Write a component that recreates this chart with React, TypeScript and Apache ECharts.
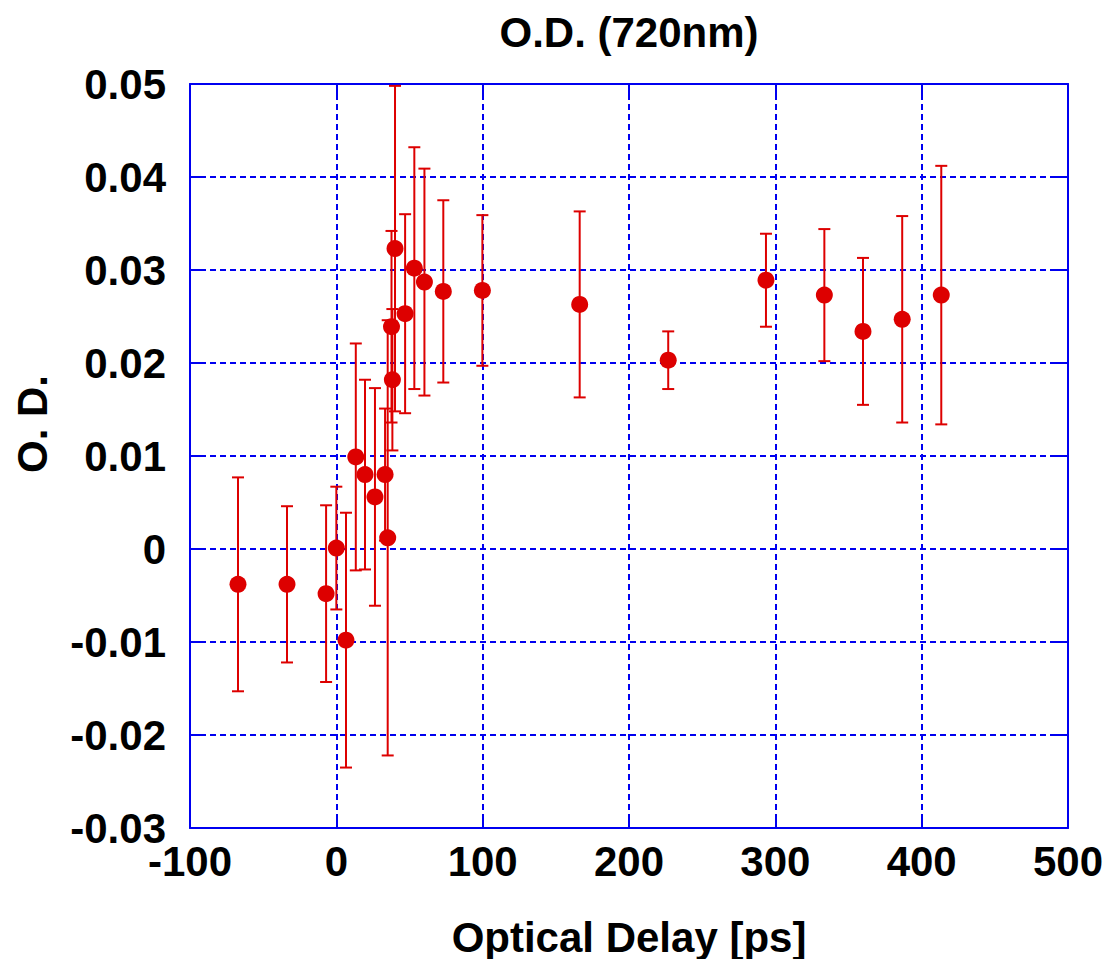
import React, { useEffect, useRef } from "react";
import * as echarts from "echarts";

const delays = [-67.2, -33.7, -7.0, 0.0, 6.6, 13.3, 19.6, 26.4, 33.3, 35.1, 37.7, 38.3, 40.1, 47.0, 53.3, 60.2, 73.1, 99.8, 166.3, 226.8, 293.6, 333.5, 359.9, 386.7, 413.4];
const od = [-0.0038, -0.0038, -0.0048, 0.0001, -0.0098, 0.0099, 0.008, 0.0056, 0.008, 0.0012, 0.0239, 0.0182, 0.0323, 0.0253, 0.0302, 0.0287, 0.0277, 0.0278, 0.0263, 0.0203, 0.0289, 0.0273, 0.0234, 0.0247, 0.0273];
const errs = [0.0115, 0.0084, 0.0095, 0.0066, 0.0137, 0.0122, 0.0102, 0.0117, 0.0071, 0.0234, 0.0103, 0.0076, 0.0175, 0.0107, 0.013, 0.0122, 0.0098, 0.0081, 0.01, 0.0031, 0.005, 0.0071, 0.0079, 0.0111, 0.0139];

const xTicks = { min: -100, max: 500, interval: 100 };
const yTicks = { min: -0.03, max: 0.05, interval: 0.01 };

const BLUE = "#0000f0";
const RED = "#dd0000";
const FONT = "Liberation Sans, Arial, sans-serif";

export default function App() {
  const ref = useRef<HTMLDivElement>(null);
  useEffect(() => {
    if (!ref.current) return;
    const chart = echarts.init(ref.current, null, { renderer: "svg" });
    const points = delays.map((x, i) => [x, od[i]]);
    const bars = delays.map((x, i) => [x, od[i] - errs[i], od[i] + errs[i]]);
    const splitLine = { show: true, lineStyle: { color: BLUE, width: 2, type: [6, 4] as any } };
    const axisLine = { show: true, onZero: false, lineStyle: { color: BLUE, width: 2 } };
    const axisTick = { show: true, inside: true, length: 14, lineStyle: { color: BLUE, width: 2 } };
    const labelStyle = { color: "#000", fontFamily: FONT, fontWeight: "bold" as const, fontSize: 42 };
    chart.setOption({
      animation: false,
      backgroundColor: "#fff",
      title: {
        text: "O.D. (720nm)",
        left: 629,
        top: 11,
        padding: 0,
        textAlign: "center",
        textStyle: { color: "#000", fontFamily: FONT, fontWeight: "bold", fontSize: 42 },
      },
      graphic: [
        {
          type: "text",
          x: 32,
          y: 424,
          rotation: Math.PI / 2,
          style: {
            text: "O. D.",
            align: "center",
            verticalAlign: "middle",
            fill: "#000",
            font: `bold 42px ${FONT}`,
          },
        },
      ],
      grid: { left: 190, top: 84, right: 37, bottom: 131, containLabel: false, outerBoundsMode: "none" },
      xAxis: [
        {
          type: "value",
          ...xTicks,
          position: "bottom",
          axisLine,
          axisTick,
          splitLine,
          axisLabel: { ...labelStyle, margin: 12, formatter: (v: number) => String(v) },
          name: "Optical Delay [ps]",
          nameLocation: "middle",
          nameGap: 88,
          nameTextStyle: { ...labelStyle },
        },
        {
          type: "value",
          ...xTicks,
          position: "top",
          axisLine,
          axisTick,
          splitLine: { show: false },
          axisLabel: { show: false },
        },
      ],
      yAxis: [
        {
          type: "value",
          ...yTicks,
          position: "left",
          axisLine,
          axisTick,
          splitLine,
          axisLabel: {
            ...labelStyle,
            margin: 24,
            formatter: (v: number) => String(Number(v.toFixed(2))),
          },
        },
        {
          type: "value",
          ...yTicks,
          position: "right",
          axisLine,
          axisTick,
          splitLine: { show: false },
          axisLabel: { show: false },
        },
      ],
      series: [
        {
          type: "custom",
          data: bars,
          encode: { x: 0, y: [1, 2] },
          z: 2,
          renderItem: (params: any, api: any) => {
            const x = api.value(0);
            const lo = api.coord([x, api.value(1)]);
            const hi = api.coord([x, api.value(2)]);
            const cap = 6;
            const style = { stroke: RED, lineWidth: 2 };
            return {
              type: "group",
              children: [
                { type: "line", shape: { x1: lo[0], y1: lo[1], x2: hi[0], y2: hi[1] }, style },
                { type: "line", shape: { x1: lo[0] - cap, y1: lo[1], x2: lo[0] + cap, y2: lo[1] }, style },
                { type: "line", shape: { x1: hi[0] - cap, y1: hi[1], x2: hi[0] + cap, y2: hi[1] }, style },
              ],
            };
          },
        },
        {
          type: "scatter",
          data: points,
          symbol: "circle",
          symbolSize: 17,
          itemStyle: { color: RED, opacity: 1 },
          z: 3,
        },
      ],
    });
    return () => chart.dispose();
  }, []);
  return <div ref={ref} style={{ position: "fixed", left: 0, top: 0, width: 1105, height: 959 }} />;
}
